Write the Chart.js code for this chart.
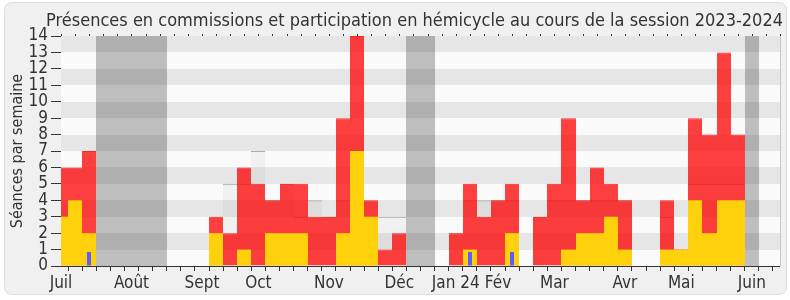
<!DOCTYPE html>
<html><head><meta charset="utf-8">
<script src="https://cdn.jsdelivr.net/npm/chart.js@4.4.0/dist/chart.umd.min.js"></script>
<style>html,body{margin:0;padding:0;background:#fff;}#wrap{width:790px;height:300px;position:relative;}</style>
</head><body><div id="wrap"><canvas id="c" width="790" height="300"></canvas></div>
<script>
// Week index (0 = first week of July 2023)
const weeks = [0,1,2,3,4,5,6,7,8,9,10,11,12,13,14,15,16,17,18,19,20,21,22,23,24,25,
               26,27,28,29,30,31,32,33,34,35,36,37,38,39,40,41,42,43,44,45,46,47,48,49,50,51];
// Total seances (red, commissions + hemicycle)
const totalSeances = [6,6,7,0,0,0,0,0,0,0,0,3,2,6,5,4,5,5,3,3,9,14,4,1,2,0,
                      0,0,2,5,3,4,5,0,3,5,9,4,6,5,4,0,0,4,1,9,8,13,8,0,0,0];
// Participation en hemicycle (yellow)
const hemicycle = [3,4,2,0,0,0,0,0,0,0,0,2,0,1,0,2,2,2,0,0,2,7,3,0,0,0,
                   0,0,0,1,0,0,2,0,0,0,1,2,2,3,1,0,0,1,1,4,2,4,4,0,0,0];
// Questions orales (blue)
const questions = [0,0,0.85,0,0,0,0,0,0,0,0,0,0,0,0,0,0,0,0,0,0,0,0,0,0,0,
                   0,0,0,0.85,0,0,0.85,0,0,0,0,0,0,0,0,0,0,0,0,0,0,0,0,0,0,0];
// Mediane des deputes (light grey)
const mediane = [3,4,2,0,0,0,0,0,0,0,0,2,5,5,7,4,5,3,4,3,4,4,3,3,3,0,
                 0,0,2,4,4,4,4,0,3,4,4,4,4,4,4,0,0,3,1,5,5,5,5,0,0,0];
// Vacances parlementaires (weeks shaded)
const vacances = [3,4,5,6,7,25,26,49];
// Month tick labels and their week index
const moisLabels = ['Juil','Août','Sept','Oct','Nov','Déc','Jan 24','Fév','Mar','Avr','Mai','Juin'];
const moisWeeks  = [0,5,10,14,19,24,28,31,35,40,44,49];
const yTicks = [0,1,2,3,4,5,6,7,8,9,10,11,12,13,14];

const FONT = "'DejaVu Sans Condensed','DejaVu Sans',sans-serif";
Chart.defaults.font.family = FONT;
Chart.defaults.color = '#333';

// snap bar edges to whole pixels (avoids seams between adjacent translucent bars)
(function(){
  const BarEl = Chart.BarElement;
  const orig = BarEl.prototype.draw;
  BarEl.prototype.draw = function(ctx){
    const x = this.x, w = this.width;
    const l = Math.round(x - w/2), r = Math.round(x + w/2);
    this.x = (l + r)/2; this.width = r - l;
    orig.call(this, ctx);
    this.x = x; this.width = w;
  };
})();

const toXY = arr => arr.map((v,i)=>({x: weeks[i], y: v}));

const bgPlugin = {
  id:'bg',
  beforeDraw(chart){
    const ctx = chart.ctx;
    ctx.save();
    ctx.fillStyle = '#ffffff';
    ctx.fillRect(0,0,chart.width,chart.height);
    const x0=4.5,y0=2.5,x1=786.5,y1=294.5,r=8;
    ctx.beginPath();
    ctx.moveTo(x0+r,y0);ctx.lineTo(x1-r,y0);ctx.quadraticCurveTo(x1,y0,x1,y0+r);
    ctx.lineTo(x1,y1-r);ctx.quadraticCurveTo(x1,y1,x1-r,y1);
    ctx.lineTo(x0+r,y1);ctx.quadraticCurveTo(x0,y1,x0,y1-r);
    ctx.lineTo(x0,y0+r);ctx.quadraticCurveTo(x0,y0,x0+r,y0);
    ctx.closePath();
    ctx.fillStyle='#f0f0f0';ctx.fill();
    ctx.strokeStyle='#dcdcdc';ctx.lineWidth=1;ctx.stroke();
    ctx.restore();
  },
  beforeDatasetsDraw(chart){
    const ctx = chart.ctx, a = chart.chartArea, xs = chart.scales.x, ys = chart.scales.y;
    ctx.save();
    ctx.beginPath();ctx.rect(a.left,a.top,a.right-a.left,a.bottom-a.top);ctx.clip();
    ctx.fillStyle='#fafafa';
    ctx.fillRect(a.left,a.top,a.right-a.left,a.bottom-a.top);
    ctx.fillStyle='#bebebe';
    vacances.forEach(w=>{
      const l = Math.round(xs.getPixelForValue(w-0.5)), r = Math.round(xs.getPixelForValue(w+0.5));
      ctx.fillRect(l,a.top,r-l,a.bottom-a.top);
    });
    ctx.fillStyle='rgba(0,0,0,0.08)';
    for(let n=1;n<14;n+=2){
      const t = Math.round(ys.getPixelForValue(n+1)), b = Math.round(ys.getPixelForValue(n));
      ctx.fillRect(a.left,t,a.right-a.left,b-t);
    }
    ctx.restore();
  },
  afterDraw(chart){
    const ctx = chart.ctx, a = chart.chartArea, xs = chart.scales.x;
    ctx.save();
    ctx.strokeStyle='#333';ctx.lineWidth=1;
    xs.ticks.forEach(t=>{
      const px = Math.round(xs.getPixelForValue(t.value))+0.5;
      ctx.beginPath();ctx.moveTo(px,a.top-2);ctx.lineTo(px,a.top);ctx.stroke();
    });
    ctx.restore();
  }
};

const common = {barPercentage:1, categoryPercentage:1, grouped:false, clip:0, inflateAmount:0};

new Chart(document.getElementById('c'), {
  type:'bar',
  data:{
    datasets:[
      Object.assign({label:'Questions orales', data:toXY(questions), backgroundColor:'#5c5cff', order:0}, common, {barPercentage:0.28}),
      Object.assign({label:'Participation en hémicycle', data:toXY(hemicycle), backgroundColor:'#fed10c', order:1}, common),
      Object.assign({label:'Présences en commissions', data:toXY(totalSeances), backgroundColor:'rgba(255,0,0,0.75)',
        borderColor:'rgba(255,0,0,0.85)', borderWidth:{top:1,left:0,right:0,bottom:0}, borderSkipped:'start', order:2}, common),
      Object.assign({label:'Médiane', data:toXY(mediane), backgroundColor:'rgba(0,0,0,0.035)',
        borderColor:'#aaaaaa', borderWidth:{top:1,left:0,right:0,bottom:0}, borderSkipped:'start', order:3}, common)
    ]
  },
  options:{
    responsive:false, animation:false,
    layout:{padding:{left:0,right:7,top:0,bottom:0}},
    plugins:{
      legend:{display:false}, tooltip:{enabled:false},
      title:{display:true, text:'Présences en commissions et participation en hémicycle au cours de la session 2023-2024',
        align:'end', color:'#333', font:{size:18, weight:'normal', family:FONT}, padding:{top:11,bottom:3.4}}
    },
    scales:{
      x:{type:'linear', min:0, max:51, offset:false,
        afterBuildTicks(s){ s.ticks = weeks.map(v=>({value:v})); },
        ticks:{autoSkip:false, maxRotation:0, padding:2, font:{size:17},
          callback(v){ const i = moisWeeks.indexOf(v); return i>=0 ? moisLabels[i] : ''; }},
        grid:{drawOnChartArea:false, drawTicks:true, tickLength:5, tickColor:'#333'},
        border:{color:'#333'},
        afterFit(s){ s.height = 34; }
      },
      y:{type:'linear', min:0, max:14, position:'left',
        afterBuildTicks(s){ s.ticks = yTicks.map(v=>({value:v})); },
        ticks:{autoSkip:false, padding:3, font:{size:17}},
        grid:{drawOnChartArea:false, drawTicks:true, tickLength:10, tickColor:'#333'},
        border:{color:'#333'},
        title:{display:true, text:'Séances par semaine', font:{size:16}, color:'#333', padding:{top:8,bottom:0}},
        afterFit(s){ s.width = 61; }
      },
      y2:{type:'linear', min:0, max:14, position:'right', display:true,
        ticks:{display:false}, grid:{drawOnChartArea:false, drawTicks:false},
        border:{color:'#c8c8c8'},
        afterFit(s){ s.width = 3; }
      }
    }
  },
  plugins:[bgPlugin]
});
</script></body></html>
